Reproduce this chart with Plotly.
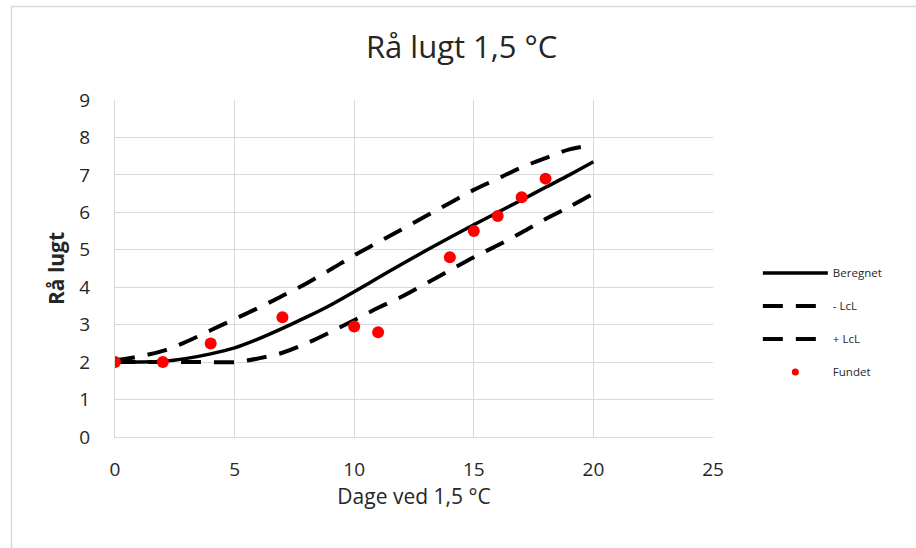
import plotly.graph_objects as go

x_curve = list(range(0, 21))
beregnet = [2.0, 2.0, 2.02, 2.1, 2.22, 2.38, 2.62, 2.9, 3.2, 3.52, 3.88, 4.25, 4.62, 4.98, 5.33, 5.67, 6.0, 6.33, 6.67, 7.0, 7.35]
minus_lcl = [2.0, 2.0, 2.0, 2.0, 2.0, 2.0, 2.1, 2.25, 2.5, 2.8, 3.12, 3.45, 3.75, 4.1, 4.45, 4.8, 5.12, 5.46, 5.82, 6.15, 6.5]
plus_lcl = [2.05, 2.15, 2.3, 2.55, 2.85, 3.15, 3.45, 3.77, 4.1, 4.47, 4.85, 5.2, 5.55, 5.9, 6.25, 6.6, 6.9, 7.2, 7.45, 7.68, 7.8]
x_found = [0, 2, 4, 7, 10, 11, 14, 15, 16, 17, 18]
fundet = [2.0, 2.0, 2.5, 3.2, 2.95, 2.8, 4.8, 5.5, 5.9, 6.4, 6.9]

FONT = "Open Sans"
GRID = "#d9d9d9"
TXT = "#262626"

fig = go.Figure()
fig.add_trace(go.Scatter(x=x_curve, y=beregnet, mode="lines", name="Beregnet",
                         line=dict(color="black", width=3.5, shape="spline"), legendgroup="a"))
fig.add_trace(go.Scatter(x=x_curve, y=minus_lcl, mode="lines", name="- LcL",
                         line=dict(color="black", width=4, dash="20px,13px", shape="spline"), legendgroup="b"))
fig.add_trace(go.Scatter(x=x_curve, y=plus_lcl, mode="lines", name="+ LcL",
                         line=dict(color="black", width=4, dash="20px,13px", shape="spline"), legendgroup="c"))
fig.add_trace(go.Scatter(x=x_found, y=fundet, mode="markers", name="Fundet", showlegend=False,
                         marker=dict(color="#ff0000", size=12), legendgroup="d"))
# legend-only entry with the small legend dot
fig.add_trace(go.Scatter(x=[None], y=[None], mode="markers", name="Fundet",
                         marker=dict(color="#ff0000", size=7), legendgroup="d"))

fig.update_layout(
    width=916, height=548,
    margin=dict(l=115, r=203, t=100, b=111),
    paper_bgcolor="white", plot_bgcolor="white",
    font=dict(family=FONT, color=TXT),
    title=dict(text="Rå lugt 1,5 °C", x=0.504, xref="container", xanchor="center",
               y=1 - 47 / 548, yref="container", yanchor="middle",
               font=dict(size=31, color=TXT, family=FONT)),
    xaxis=dict(range=[0, 25], dtick=5, tick0=0, showgrid=True, gridcolor=GRID, gridwidth=1,
               zeroline=False, showline=True, linecolor=GRID,
               tickfont=dict(size=19, color=TXT), ticklabelstandoff=15,
               title=dict(text="Dage ved 1,5 °C", font=dict(size=21, color=TXT), standoff=4)),
    yaxis=dict(range=[0, 9], dtick=1, tick0=0, showgrid=True, gridcolor=GRID, gridwidth=1,
               zeroline=False, showline=True, linecolor=GRID,
               tickfont=dict(size=19, color=TXT), ticklabelstandoff=20,
               title=dict(text="<b>Rå lugt</b>", font=dict(size=21, color=TXT), standoff=8)),
    legend=dict(x=1.075, y=0.53, xanchor="left", yanchor="top", itemwidth=65,
                font=dict(size=11.5, color=TXT), tracegroupgap=14,
                bgcolor="rgba(0,0,0,0)"),
    shapes=[dict(type="rect", xref="paper", yref="paper",
                 x0=(11.5 - 115) / 598, x1=1.5, y0=-0.5, y1=(437 - 6.5) / 337,
                 line=dict(color=GRID, width=1.5), layer="below")],
)

fig.write_html("out.html")
